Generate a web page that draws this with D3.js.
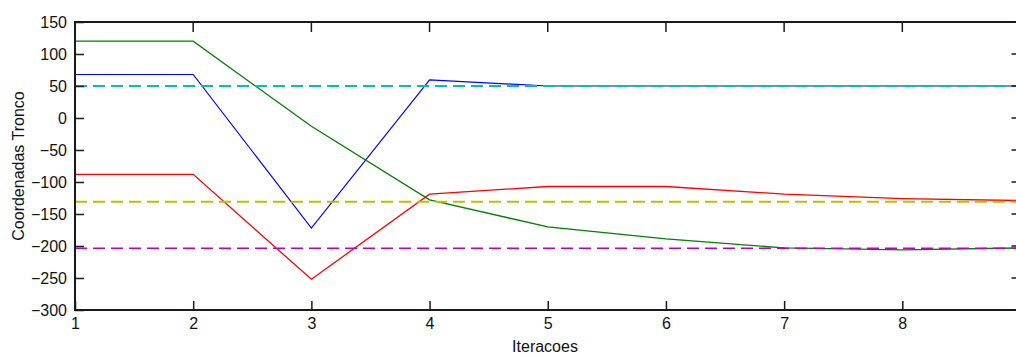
<!DOCTYPE html>
<html>
<head>
<meta charset="utf-8">
<script src="https://cdn.jsdelivr.net/npm/d3@7"></script>
<style>
  html, body { margin: 0; padding: 0; background: #fff; }
  svg { display: block; }
  text { font-family: "Liberation Sans", Arial, Helvetica, sans-serif; fill: #111; }
</style>
</head>
<body>
<svg id="chart" width="1016" height="356"></svg>
<script>
// Iterations on the x axis
const iteracoes = [1, 2, 3, 4, 5, 6, 7, 8, 9];

// Trunk coordinates per iteration
const serieAzul     = [68, 68, -172, 59.5, 50, 50, 50, 50, 50];
const serieVerde    = [120, 120, -13, -128, -170, -189, -203, -206, -203];
const serieVermelha = [-88, -88, -252, -119, -107, -107, -119, -126, -129];

// Target (reference) levels drawn as dashed lines
const alvoCiano    = 50;
const alvoAmarelo  = -131;
const alvoMagenta  = -203.5;

// Axis ticks
const xTicks = [1, 2, 3, 4, 5, 6, 7, 8];
const yTicks = [-300, -250, -200, -150, -100, -50, 0, 50, 100, 150];

const svg = d3.select("#chart");
const plotLeft = 75, plotRight = 1020.5, plotTop = 22, plotBottom = 310;

const x = d3.scaleLinear().domain([1, 9]).range([plotLeft, plotRight]);
const y = d3.scaleLinear().domain([-300, 150]).range([plotBottom, plotTop]);

const line = d3.line().x((d, i) => x(iteracoes[i])).y(d => y(d));

// Solid series
const solid = [
  { data: serieAzul, color: "#0000ff", w: 1.2 },
  { data: serieVerde, color: "#008000", w: 1.3 },
  { data: serieVermelha, color: "#ff0000", w: 1.3 }
];
solid.forEach(s => {
  svg.append("path")
    .attr("d", line(s.data))
    .attr("fill", "none")
    .attr("stroke", s.color)
    .attr("stroke-width", s.w);
});

// Dashed target levels
const dashed = [
  { v: alvoCiano, color: "#00bfbf", w: 2 },
  { v: alvoMagenta, color: "#bf00bf", w: 1.3 },
  { v: alvoAmarelo, color: "#bfbf00", w: 2 }
];
dashed.forEach(d => {
  svg.append("line")
    .attr("x1", x(1)).attr("x2", x(9))
    .attr("y1", y(d.v)).attr("y2", y(d.v))
    .attr("stroke", d.color)
    .attr("stroke-width", d.w)
    .attr("stroke-dasharray", "12,6");
});

// Box and axes
const axisColor = "#1a1a1a";
svg.append("rect")
  .attr("x", plotLeft).attr("y", plotTop)
  .attr("width", plotRight - plotLeft).attr("height", plotBottom - plotTop)
  .attr("fill", "none").attr("stroke", axisColor).attr("stroke-width", 2);

const tickLen = 9;

// bottom axis
const xAxis = svg.append("g").attr("transform", `translate(0,${plotBottom})`)
  .call(d3.axisBottom(x).tickValues(xTicks).tickSize(0).tickPadding(0).tickFormat(d3.format("d")));
xAxis.select(".domain").remove();
xAxis.selectAll(".tick text").attr("dy", "19").style("font-size", "16px");
xAxis.selectAll(".tick").append("line")
  .attr("y1", 0).attr("y2", -tickLen).attr("stroke", axisColor).attr("stroke-width", 1.5);

// top ticks
svg.append("g").selectAll("line").data(xTicks).join("line")
  .attr("x1", d => x(d)).attr("x2", d => x(d))
  .attr("y1", plotTop).attr("y2", plotTop + tickLen + 1)
  .attr("stroke", axisColor).attr("stroke-width", 1.5);

// left axis
const yAxis = svg.append("g").attr("transform", `translate(${plotLeft},0)`)
  .call(d3.axisLeft(y).tickValues(yTicks).tickSize(0).tickPadding(8));
yAxis.select(".domain").remove();
yAxis.selectAll(".tick text").style("font-size", "16px");
yAxis.selectAll(".tick").append("line")
  .attr("x1", 0).attr("x2", tickLen).attr("stroke", axisColor).attr("stroke-width", 1.5);

// right ticks
svg.append("g").selectAll("line").data(yTicks).join("line")
  .attr("x1", plotRight).attr("x2", plotRight - tickLen)
  .attr("y1", d => y(d)).attr("y2", d => y(d))
  .attr("stroke", axisColor).attr("stroke-width", 1.5);

// Axis titles
svg.append("text")
  .attr("x", 545).attr("y", 352)
  .attr("text-anchor", "middle")
  .style("font-size", "16px")
  .text("Iteracoes");

svg.append("text")
  .attr("transform", `translate(24,${(plotTop + plotBottom) / 2}) rotate(-90)`)
  .attr("text-anchor", "middle")
  .style("font-size", "16px")
  .text("Coordenadas Tronco");
</script>
</body>
</html>
